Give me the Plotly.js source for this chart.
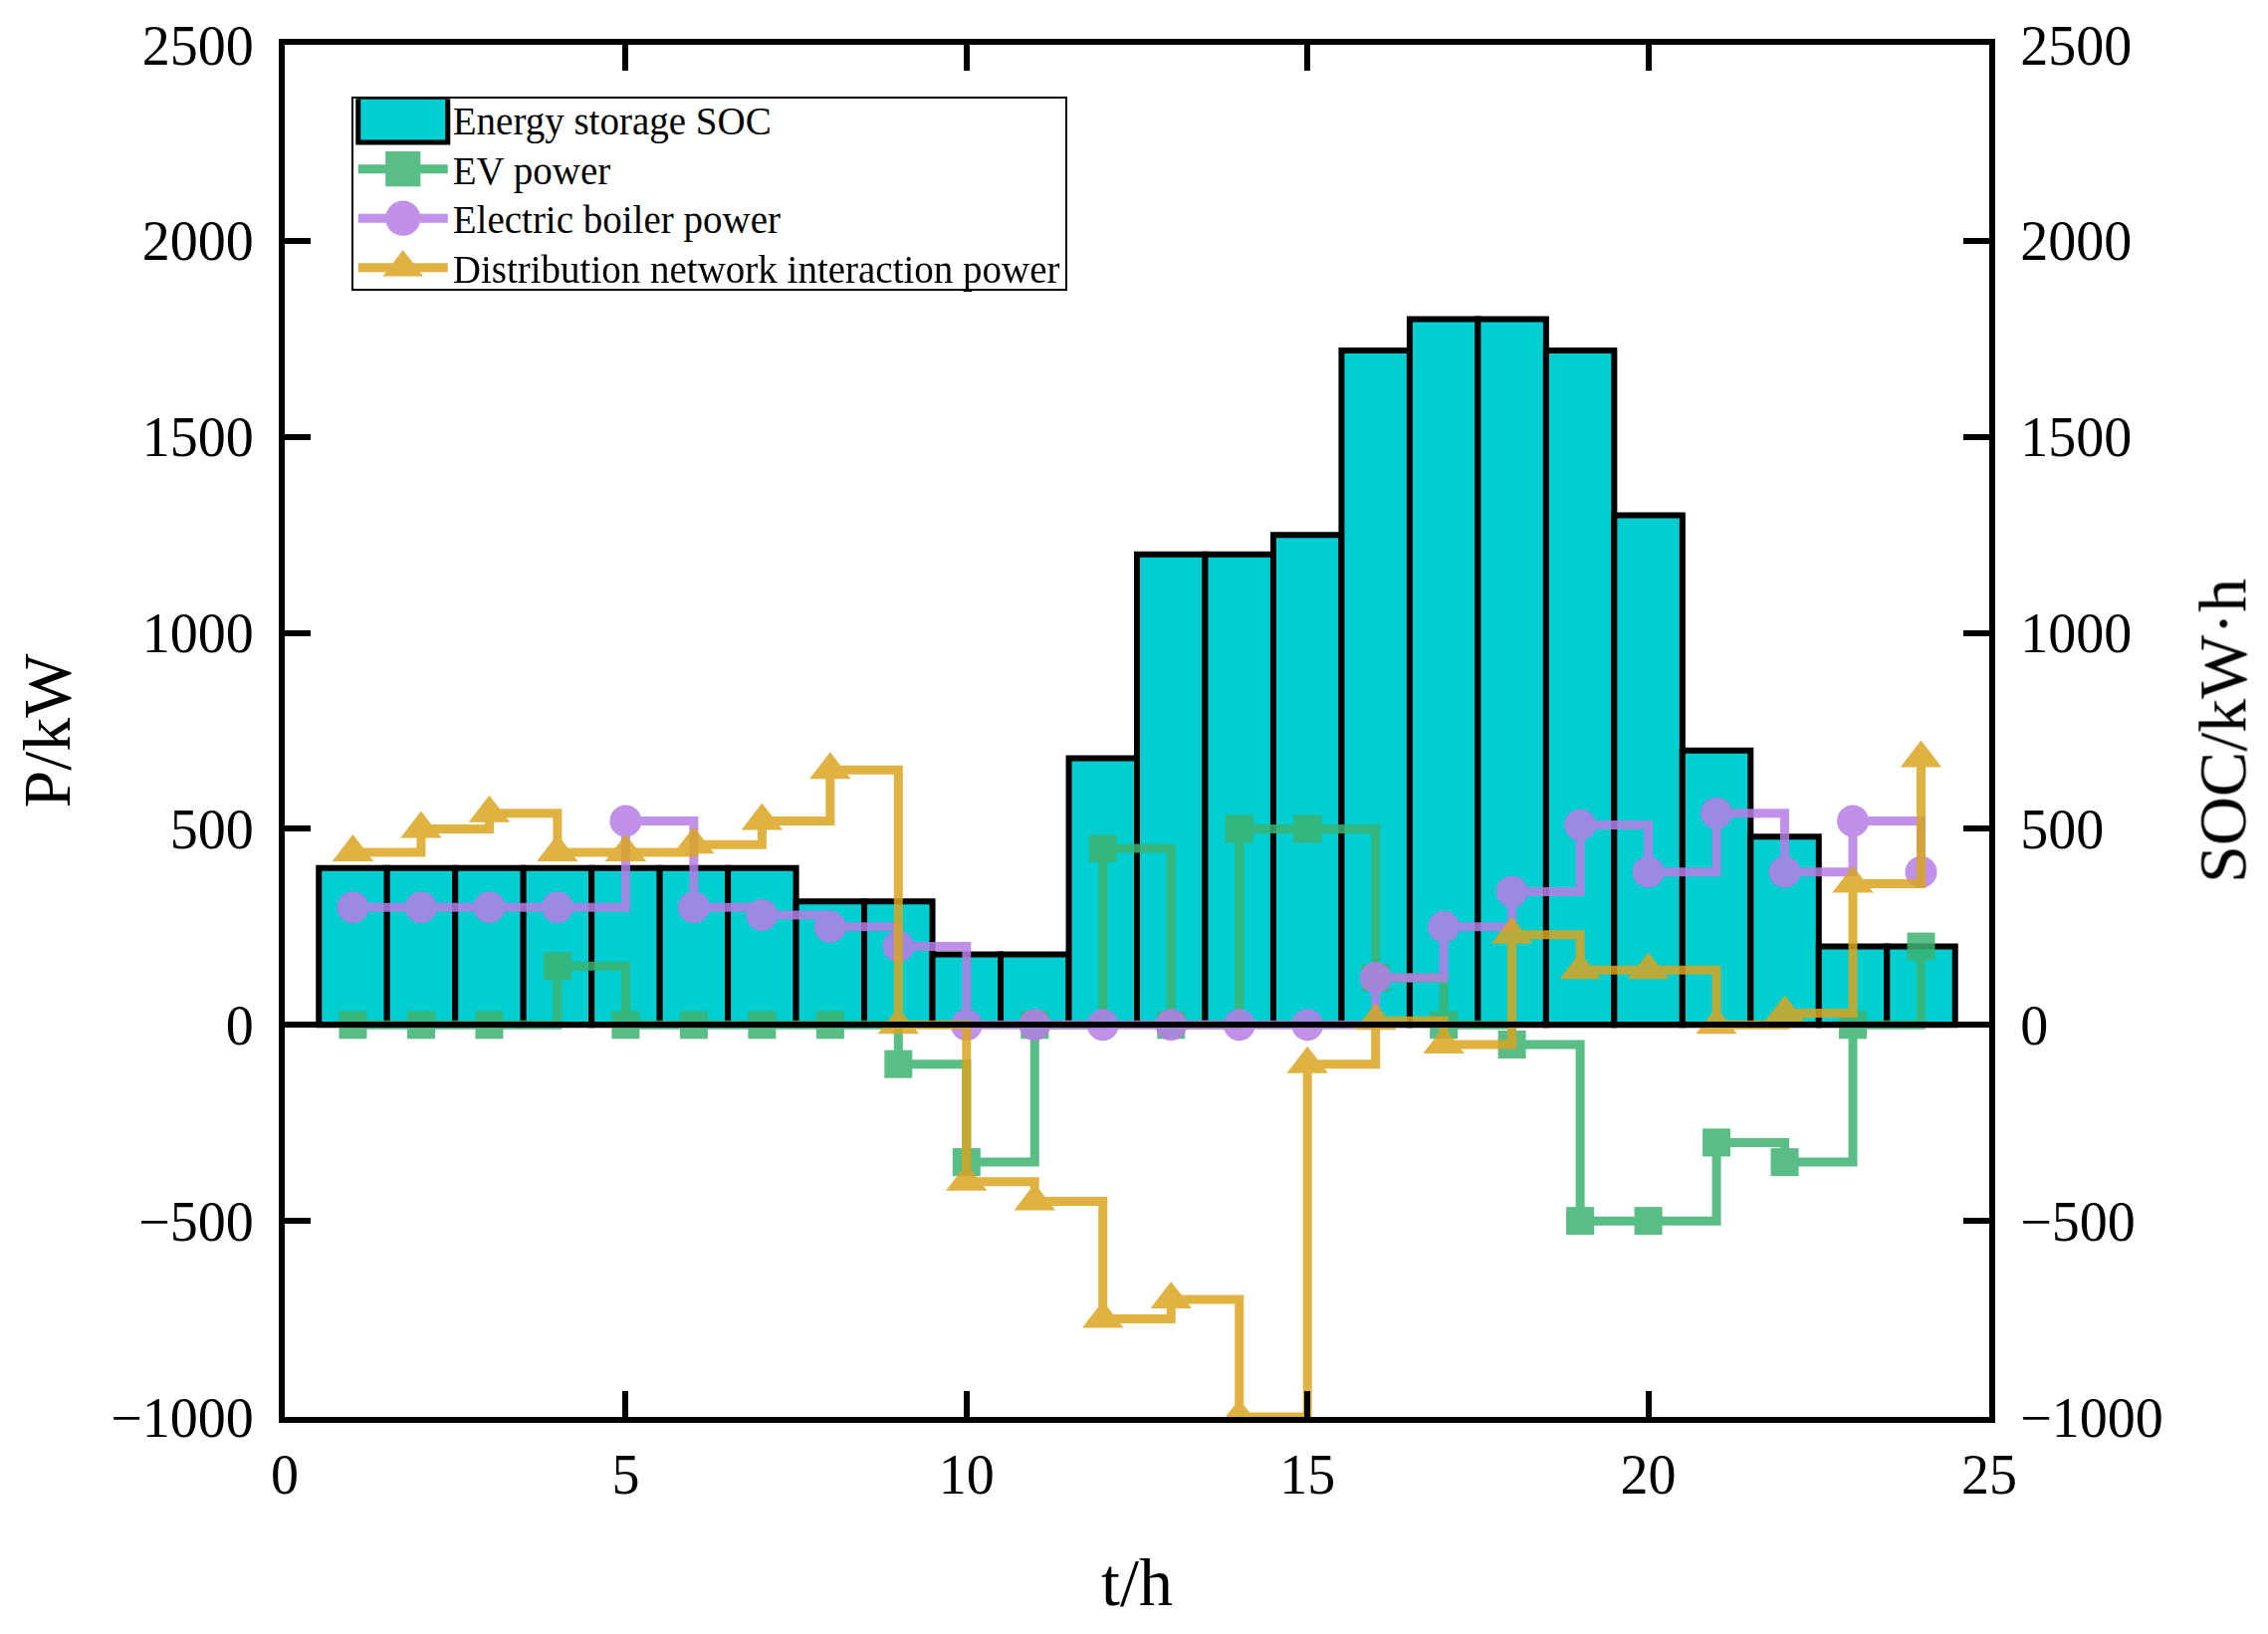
<!DOCTYPE html>
<html>
<head>
<meta charset="utf-8">
<script src="https://cdn.plot.ly/plotly-3.0.1.min.js"></script>
<style>
  html, body { margin: 0; padding: 0; background: #fff; }
  #chart { width: 2278px; height: 1641px; }
</style>
</head>
<body>
<div id="chart"></div>
<script>
// hourly schedule, t = 1..24 h
let hours  = [1,2,3,4,5,6,7,8,9,10,11,12,13,14,15,16,17,18,19,20,21,22,23,24];
let socKWh = [400,400,400,400,400,400,400,315,315,180,180,680,1200,1200,1250,1720,1800,1800,1720,1300,700,480,200,200];
let evKW   = [0,0,0,150,0,0,0,0,-100,-350,0,450,0,500,500,120,0,-50,-500,-500,-300,-350,0,200];
let boilerKW = [300,300,300,300,520,300,280,250,200,0,0,0,0,0,0,120,250,340,510,390,540,390,520,390];
let gridKW = [440,500,540,440,440,460,520,650,0,-400,-450,-750,-700,-1000,-100,10,-50,230,140,140,0,30,360,680];

let yTicks = [-1000,-500,0,500,1000,1500,2000,2500];
let xTicks = [0,5,10,15,20,25];

let serif = '"Liberation Serif", "Times New Roman", serif';

function stepTrace(y, name, color, symbol, size) {
	return {
		x: hours,
		y: y,
		yaxis: 'y2',
		mode: 'lines+markers',
		name: name,
		opacity: 0.85,
		line: { color: color, width: 9, shape: 'hv' },
		marker: { color: color, symbol: symbol, size: size }
	};
}

let data = [
	{
		x: hours,
		y: socKWh,
		type: 'bar',
		name: 'Energy storage SOC',
		width: 1,
		marker: { color: '#00CED1', line: { color: 'black', width: 6 } }
	},
	stepTrace(evKW, 'EV power', '#3CB371', 'square', 28),
	stepTrace(boilerKW, 'Electric boiler power', '#B77EE6', 'circle', 32),
	stepTrace(gridKW, 'Distribution network interaction power', '#DAA520', 'triangle-up', 36)
];

let axisCommon = {
	range: [-1000, 2500],
	tickvals: yTicks,
	showgrid: false,
	showline: true,
	linecolor: 'black',
	linewidth: 6,
	ticks: 'inside',
	ticklen: 26,
	tickwidth: 6,
	tickcolor: 'black',
	tickfont: { family: serif, size: 56, color: 'black' },
	ticklabelstandoff: 14
};

let layout = {
	width: 2278,
	height: 1641,
	margin: { l: 286, r: 280, t: 45, b: 218 },
	paper_bgcolor: 'white',
	plot_bgcolor: 'white',
	showlegend: true,
	bargap: 0,
	font: { family: serif, color: 'black' },
	xaxis: {
		range: [0, 25],
		tickvals: xTicks,
		showgrid: false,
		zeroline: false,
		showline: true,
		mirror: 'ticks',
		linecolor: 'black',
		linewidth: 6,
		ticks: 'inside',
		ticklen: 26,
		tickwidth: 6,
		tickcolor: 'black',
		tickfont: { family: serif, size: 56, color: 'black' },
		ticklabelstandoff: 4,
		title: { text: 't/h', font: { family: serif, size: 68, color: 'black' }, standoff: 55 }
	},
	yaxis: Object.assign({}, axisCommon, {
		side: 'right',
		zeroline: false,
		title: { text: 'SOC/kW·h', font: { family: serif, size: 68, color: 'black' }, standoff: 38 }
	}),
	yaxis2: Object.assign({}, axisCommon, {
		side: 'left',
		overlaying: 'y',
		zeroline: true,
		zerolinecolor: 'black',
		zerolinewidth: 6,
		zerolinelayer: 'above traces',
		title: { text: 'P/kW', font: { family: serif, size: 68, color: 'black' }, standoff: 20 }
	}),
	legend: {
		x: 0.039,
		y: 0.962,
		xanchor: 'left',
		yanchor: 'top',
		bgcolor: 'white',
		bordercolor: 'black',
		borderwidth: 2,
		itemwidth: 90,
		tracegroupgap: 0,
		font: { family: serif, size: 39, color: 'black' }
	}
};

let rowStep = 49.5;   // legend row pitch in the figure
let legendH = 193;

Plotly.newPlot('chart', data, layout, { displayModeBar: false, staticPlot: true }).then(function(gd) {
	// legend glyphs are capped small by plotly, blow them up to match the figure
	gd.querySelectorAll('.legend .legendpoints path').forEach(function(p) {
		let t = p.getAttribute('transform') || '';
		if (p.classList.contains('scatterpts')) {
			p.setAttribute('transform', t + ' scale(2.2)');
		} else {
			p.setAttribute('transform', t + ' scale(7.5,3.8)');
			p.style.vectorEffect = 'non-scaling-stroke';
			p.style.strokeWidth = '5px';
		}
	});
	// tighten legend rows
	let rows = gd.querySelectorAll('.legend g.traces');
	let y0 = null;
	rows.forEach(function(g, i) {
		let m = /translate\(\s*([-\d.]+)[ ,]+([-\d.]+)\s*\)/.exec(g.getAttribute('transform') || '');
		if (!m) return;
		if (y0 === null) y0 = parseFloat(m[2]) - 11;
		g.setAttribute('transform', 'translate(' + m[1] + ',' + (y0 + i * rowStep) + ')');
	});
	let bg = gd.querySelector('.legend rect.bg');
	if (bg) bg.setAttribute('height', legendH);
});
</script>
</body>
</html>
